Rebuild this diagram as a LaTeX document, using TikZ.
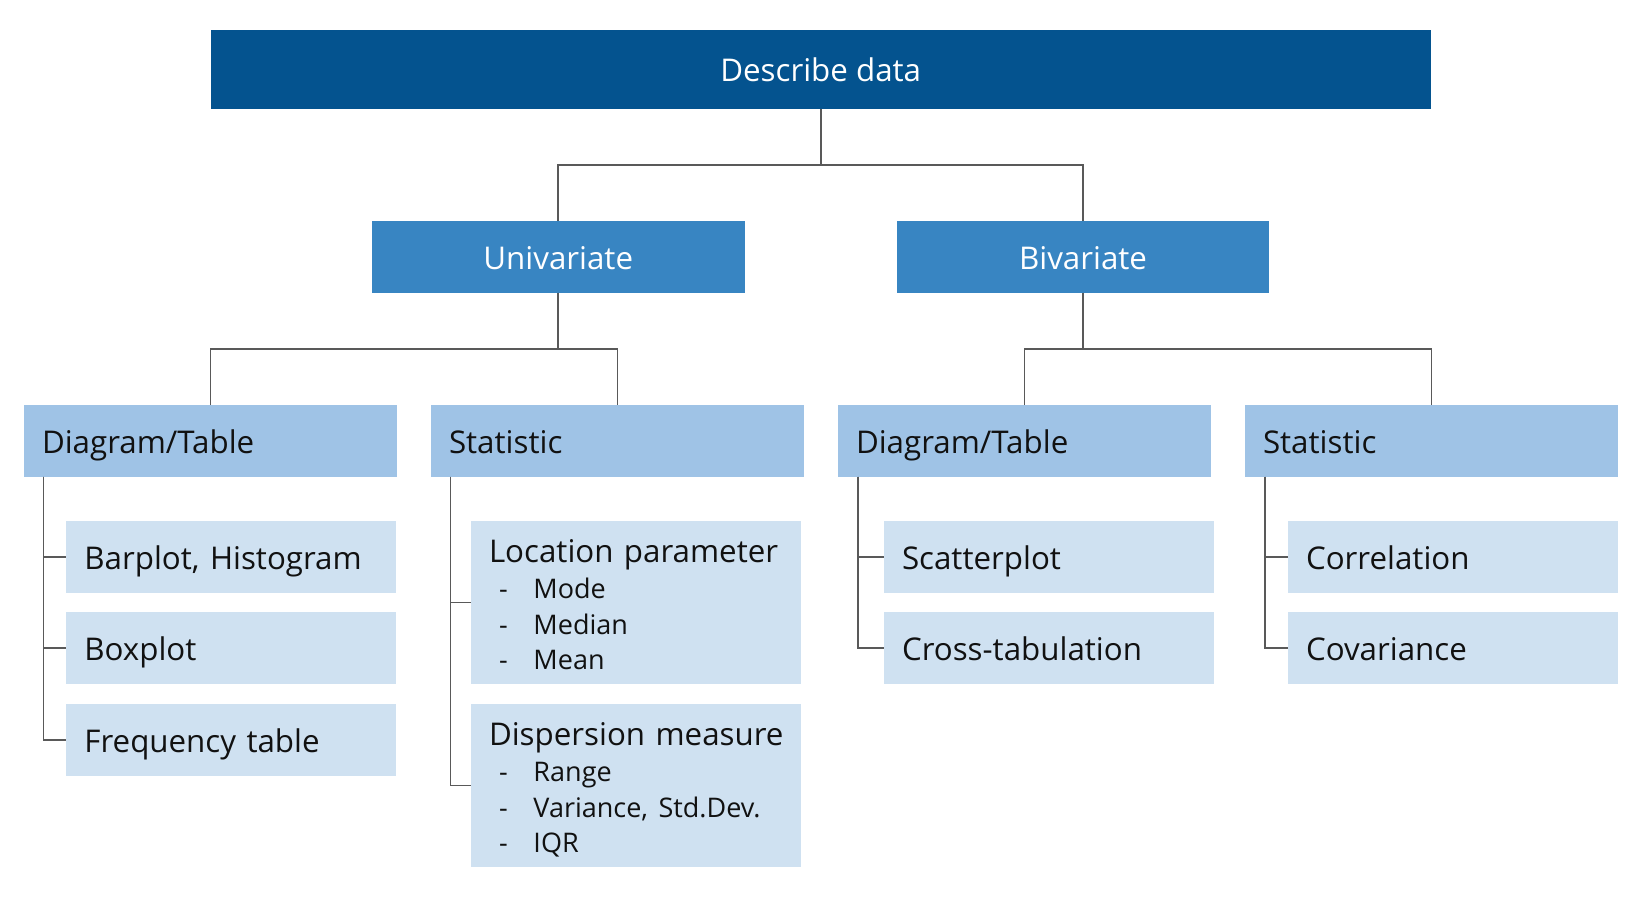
\documentclass[tikz,border=0pt]{standalone}
\usepackage{fontspec}
\setmainfont{Open Sans}
\definecolor{c0}{HTML}{04538F}
\definecolor{c1}{HTML}{3885C2}
\definecolor{c2}{HTML}{9FC3E6}
\definecolor{c3}{HTML}{CFE1F1}
\definecolor{ln}{HTML}{595959}
\definecolor{tx}{HTML}{111111}
\newcommand{\mainf}{\fontsize{31.3}{35.5}\selectfont}
\newcommand{\subf}{\fontsize{27}{35.5}\selectfont}
\newcommand{\itm}[1]{\mbox{\subf\makebox[44.5pt][l]{\hspace{10pt}-}#1}}
\begin{document}
\begin{tikzpicture}[x=1pt,y=-1pt,
  box/.style={anchor=north west, inner xsep=18pt, inner ysep=0pt, outer sep=0pt, font=\mainf},
  one/.style={text height=31pt, text depth=6pt},
  b0/.style={box, one, fill=c0, text=white, align=center, minimum width=1220.5pt, minimum height=79pt},
  b1/.style={box, one, fill=c1, text=white, align=center, minimum width=372.5pt, minimum height=72pt},
  b2/.style={box, one, fill=c2, text=tx, align=left, text width=337pt, minimum width=373pt, minimum height=71.7pt},
  leafbase/.style={box, fill=c3, text=tx, align=left, text width=294pt, minimum width=330pt},
  leaf/.style={leafbase, one, minimum height=71.7pt},
  bigleaf/.style={leafbase, text height=32pt, text depth=112.5pt, minimum height=163pt},
  conn/.style={draw=ln, line width=1.6pt},
]
\path[use as bounding box] (0,0) rectangle (1650,902);
% level 0
\node[b0] (top) at (210.5,29.5) {Describe data};
% level 1
\node[b1] (uni) at (372,220.7) {Univariate};
\node[b1] (bi) at (896.8,220.7) {Bivariate};
% level 2
\node[b2] (dt1) at (24,405) {Diagram/Table};
\node[b2] (st1) at (431,405) {Statistic};
\node[b2] (dt2) at (838,405) {Diagram/Table};
\node[b2] (st2) at (1245,405) {Statistic};
% leaves
\node[leaf] (bar) at (66.4,521) {Barplot, Histogram};
\node[leaf] (boxp) at (66.4,612.3) {Boxplot};
\node[leaf] (freq) at (66.4,704) {Frequency table};
\node[bigleaf] (loc) at (471,521) {\mbox{Location parameter}\\[1pt] \itm{Mode}\\ \itm{Median}\\ \itm{Mean}};
\node[bigleaf] (disp) at (471,704) {\mbox{Dispersion measure}\\[1pt] \itm{Range}\\ \itm{Variance, Std.Dev.}\\ \itm{IQR}};
\node[leaf] (sc) at (884,521) {Scatterplot};
\node[leaf] (ct) at (884,612.3) {Cross-tabulation};
\node[leaf] (cor) at (1288,521) {Correlation};
\node[leaf] (cov) at (1288,612.3) {Covariance};
% connectors
\draw[conn] (top.south) -- ++(0,56.5) -| (uni.north);
\draw[conn] (top.south) -- ++(0,56.5) -| (bi.north);
\draw[conn] (uni.south) -- ++(0,56) -| (dt1.north);
\draw[conn] (uni.south) -- ++(0,56) -| (st1.north);
\draw[conn] (bi.south) -- ++(0,56) -| (dt2.north);
\draw[conn] (bi.south) -- ++(0,56) -| (st2.north);
\draw[conn] ([xshift=19.5pt]dt1.south west) |- (bar.west);
\draw[conn] ([xshift=19.5pt]dt1.south west) |- (boxp.west);
\draw[conn] ([xshift=19.5pt]dt1.south west) |- (freq.west);
\draw[conn] ([xshift=19.5pt]st1.south west) |- (loc.west);
\draw[conn] ([xshift=19.5pt]st1.south west) |- (disp.west);
\draw[conn] ([xshift=20pt]dt2.south west) |- (sc.west);
\draw[conn] ([xshift=20pt]dt2.south west) |- (ct.west);
\draw[conn] ([xshift=20pt]st2.south west) |- (cor.west);
\draw[conn] ([xshift=20pt]st2.south west) |- (cov.west);
\end{tikzpicture}
\end{document}
